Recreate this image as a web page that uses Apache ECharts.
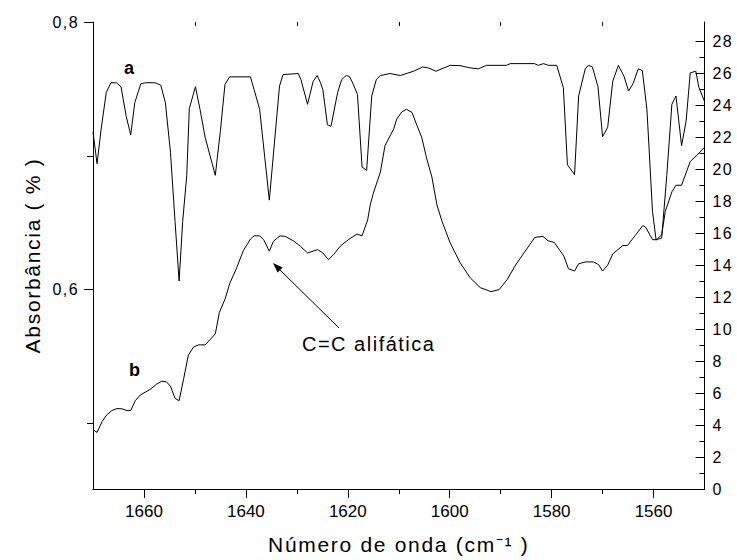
<!DOCTYPE html>
<html><head><meta charset="utf-8">
<script src="https://cdn.jsdelivr.net/npm/echarts@6/dist/echarts.min.js"></script>
<style>html,body{margin:0;padding:0;background:#fff}#c{width:737px;height:560px}</style>
</head><body><div id="c"></div>
<script>
// Curve a
const wavenumberA = [1670.0,1669.2,1668.4,1667.4,1666.5,1665.4,1664.5,1663.5,1662.6,1661.8,1660.6,1659.7,1657.8,1656.7,1655.8,1654.8,1653.9,1653.1,1652.4,1651.6,1651.1,1649.9,1649.0,1648.0,1646.0,1645.0,1644.1,1643.2,1639.1,1637.3,1635.4,1633.4,1632.7,1629.7,1629.2,1627.9,1626.8,1626.0,1625.4,1624.9,1624.0,1623.3,1622.0,1621.2,1620.3,1619.7,1619.2,1618.1,1617.2,1616.3,1615.3,1614.4,1613.6,1611.7,1609.7,1607.1,1605.3,1604.2,1602.7,1599.9,1598.0,1596.0,1594.4,1592.8,1588.9,1588.1,1583.4,1582.6,1581.6,1580.6,1579.0,1577.7,1576.9,1575.5,1574.7,1573.4,1572.8,1572.0,1570.9,1570.0,1569.0,1568.0,1566.9,1565.8,1564.9,1564.0,1563.0,1562.2,1561.3,1560.2,1559.5,1558.4,1557.4,1556.4,1555.6,1554.5,1553.6,1552.8,1551.7,1551.1,1550.0];
const absorbanceA = [0.7176,0.6941,0.7200,0.7472,0.7546,0.7546,0.7516,0.7299,0.7156,0.7398,0.7539,0.7546,0.7546,0.7528,0.7398,0.7027,0.6509,0.6064,0.6509,0.6854,0.7353,0.7516,0.7348,0.7139,0.6854,0.7187,0.7533,0.7590,0.7590,0.7348,0.6669,0.7521,0.7607,0.7615,0.7570,0.7385,0.7556,0.7600,0.7550,0.7496,0.7232,0.7220,0.7472,0.7570,0.7600,0.7593,0.7558,0.7459,0.6916,0.6891,0.7447,0.7570,0.7600,0.7615,0.7600,0.7632,0.7664,0.7657,0.7632,0.7676,0.7674,0.7657,0.7650,0.7676,0.7676,0.7689,0.7689,0.7676,0.7689,0.7676,0.7676,0.7509,0.6933,0.6859,0.7447,0.7650,0.7676,0.7664,0.7516,0.7143,0.7213,0.7558,0.7676,0.7595,0.7484,0.7541,0.7650,0.7637,0.7348,0.6583,0.6373,0.6385,0.6854,0.7385,0.7447,0.7076,0.7261,0.7620,0.7632,0.7511,0.7407];
// Curve b
const wavenumberB = [1670.0,1669.2,1668.2,1667.3,1666.3,1665.3,1664.3,1663.3,1662.6,1661.7,1660.7,1658.8,1657.5,1656.5,1655.6,1654.8,1653.9,1653.1,1652.2,1651.3,1650.3,1649.3,1648.0,1647.1,1646.0,1645.2,1644.1,1643.1,1641.8,1640.5,1639.1,1638.4,1637.3,1636.5,1635.4,1634.6,1633.3,1632.3,1630.7,1629.3,1627.9,1625.9,1624.9,1623.8,1622.8,1621.5,1619.9,1618.2,1617.2,1616.1,1615.6,1615.0,1613.6,1612.7,1611.0,1610.4,1609.4,1608.5,1607.4,1606.4,1605.5,1604.5,1603.5,1602.5,1601.5,1599.9,1598.0,1596.0,1594.0,1591.9,1590.3,1588.7,1587.2,1585.4,1583.3,1581.7,1580.7,1579.5,1577.6,1576.7,1575.5,1574.7,1573.4,1571.8,1570.8,1570.0,1569.0,1568.0,1566.0,1565.1,1563.6,1562.1,1561.5,1560.2,1559.4,1558.4,1557.7,1556.4,1555.6,1554.5,1552.8,1551.4,1550.0];
const absorbanceB = [0.4953,0.4933,0.5015,0.5064,0.5096,0.5111,0.5109,0.5096,0.5096,0.5170,0.5213,0.5254,0.5294,0.5316,0.5311,0.5279,0.5187,0.5170,0.5336,0.5509,0.5570,0.5587,0.5587,0.5624,0.5669,0.5830,0.5928,0.6052,0.6163,0.6291,0.6378,0.6402,0.6402,0.6373,0.6287,0.6361,0.6402,0.6398,0.6365,0.6324,0.6274,0.6299,0.6274,0.6224,0.6261,0.6324,0.6373,0.6415,0.6402,0.6521,0.6632,0.6719,0.6879,0.7076,0.7200,0.7274,0.7328,0.7348,0.7324,0.7224,0.7139,0.6978,0.6842,0.6632,0.6509,0.6348,0.6204,0.6089,0.6015,0.5985,0.6000,0.6076,0.6176,0.6276,0.6390,0.6398,0.6365,0.6353,0.6250,0.6156,0.6139,0.6193,0.6207,0.6207,0.6187,0.6139,0.6183,0.6267,0.6330,0.6330,0.6405,0.6479,0.6464,0.6373,0.6373,0.6410,0.6583,0.6731,0.6780,0.6780,0.6958,0.7007,0.7064];
// Tick labels
const xTickLabels = [1560,1580,1600,1620,1640,1660];
const xTicksAll = [1560,1570,1580,1590,1600,1610,1620,1630,1640,1650,1660];
const xTicksMinor = [1570,1590,1610,1630,1650];
const yLeftLabels = [0.6,0.8];
const yLeftMinor = [0.5,0.7];
const yRightLabels = [0,2,4,6,8,10,12,14,16,18,20,22,24,26,28];
const yRightMinor = [1,3,5,7,9,11,13,15,17,19,21,23,25,27];

const FONT = '"Liberation Sans", Arial, sans-serif';
const chart = echarts.init(document.getElementById('c'), null, {renderer:'svg'});
const black = '#000';
const hiddenLine = {show:false};
const xBase = {type:'value', min:1550, max:1670, inverse:true, splitLine:{show:false}};
const yL = {type:'value', min:0.451, max:0.8, splitLine:{show:false}};
const yR = {type:'value', min:0, max:29.2, splitLine:{show:false}};

chart.setOption({
  animation:false,
  backgroundColor:'#fff',
  grid:{left:93, top:22, width:611.5, height:471.5, containLabel:false},
  xAxis:[
    Object.assign({}, xBase, {
      position:'bottom',
      axisLine:{lineStyle:{color:black,width:1}},
      axisTick:{inside:false,length:5,customValues:xTicksAll,lineStyle:{color:black}},
      axisLabel:{customValues:xTickLabels,color:black,fontSize:17,fontFamily:FONT,margin:14,
        formatter:v=>String(v)},
      name:'Número de onda (cm⁻¹ )',
      nameLocation:'middle', nameGap:45,
      nameTextStyle:{fontSize:21,fontFamily:FONT,color:black}
    }),
    Object.assign({}, xBase, {
      position:'top',
      axisLine:{lineStyle:{color:black,width:1}},
      axisTick:{inside:true,length:9,customValues:xTickLabels,lineStyle:{color:black}},
      axisLabel:{show:false}
    }),
    Object.assign({}, xBase, {
      position:'top',
      axisLine:hiddenLine,
      axisTick:{inside:true,length:4,customValues:xTicksMinor,lineStyle:{color:black}},
      axisLabel:{show:false}
    })
  ],
  yAxis:[
    Object.assign({}, yL, {
      position:'left',
      axisLine:{show:true,lineStyle:{color:black,width:1}},
      axisTick:{show:true,inside:false,length:9,customValues:yLeftLabels,lineStyle:{color:black}},
      axisLabel:{customValues:yLeftLabels,color:black,fontSize:16,fontFamily:FONT,margin:14,
        formatter:v=>v.toFixed(1).replace('.',',')},
      name:'Absorbância ( % )', nameLocation:'middle', nameGap:50, nameRotate:90,
      nameTextStyle:{fontSize:21,fontFamily:FONT,color:black}
    }),
    Object.assign({}, yR, {
      position:'right',
      axisLine:{show:true,lineStyle:{color:black,width:1}},
      axisTick:{show:true,inside:true,length:9,customValues:yRightLabels,lineStyle:{color:black}},
      axisLabel:{customValues:yRightLabels,color:black,fontSize:16,fontFamily:FONT,margin:8}
    }),
    Object.assign({}, yL, {
      position:'left',
      axisLine:hiddenLine,
      axisTick:{show:true,inside:false,length:6,customValues:yLeftMinor,lineStyle:{color:black}},
      axisLabel:{show:false}
    }),
    Object.assign({}, yR, {
      position:'right',
      axisLine:hiddenLine,
      axisTick:{show:true,inside:true,length:5,customValues:yRightMinor,lineStyle:{color:black}},
      axisLabel:{show:false}
    })
  ],
  series:[
    {name:'a', type:'line', xAxisIndex:0, yAxisIndex:0, symbol:'none', silent:true,
     lineStyle:{color:black,width:1}, data:wavenumberA.map((w,i)=>[w,absorbanceA[i]])},
    {name:'b', type:'line', xAxisIndex:0, yAxisIndex:0, symbol:'none', silent:true,
     lineStyle:{color:black,width:1}, data:wavenumberB.map((w,i)=>[w,absorbanceB[i]])}
  ],
  graphic:[
    {type:'text', left:124, top:59, style:{text:'a', font:'bold 18px '+FONT, fill:black}},
    {type:'text', left:129, top:361, style:{text:'b', font:'bold 18px '+FONT, fill:black}},
    {type:'text', left:302, top:334, style:{text:'C=C alifática', font:'20px '+FONT, fill:black}},
    {type:'line', shape:{x1:339, y1:328, x2:279, y2:269}, style:{stroke:black, lineWidth:1}},
    {type:'polygon', shape:{points:[[273,263],[282.6,267.5],[277.6,272.5]]}, style:{fill:black}}
  ]
});

// Origin-style wide character spacing, applied to the SVG text elements by font size
const spacingBySize = {16:'1.4px', 20:'1.5px', 21:'1.7px'};
function applySpacing(){
  document.querySelectorAll('#c text').forEach(t=>{
    const fs = Math.round(parseFloat(getComputedStyle(t).fontSize));
    if (spacingBySize[fs]) t.style.letterSpacing = spacingBySize[fs];
  });
}
applySpacing();
chart.on('finished', applySpacing);
setTimeout(applySpacing, 0);
</script></body></html>
